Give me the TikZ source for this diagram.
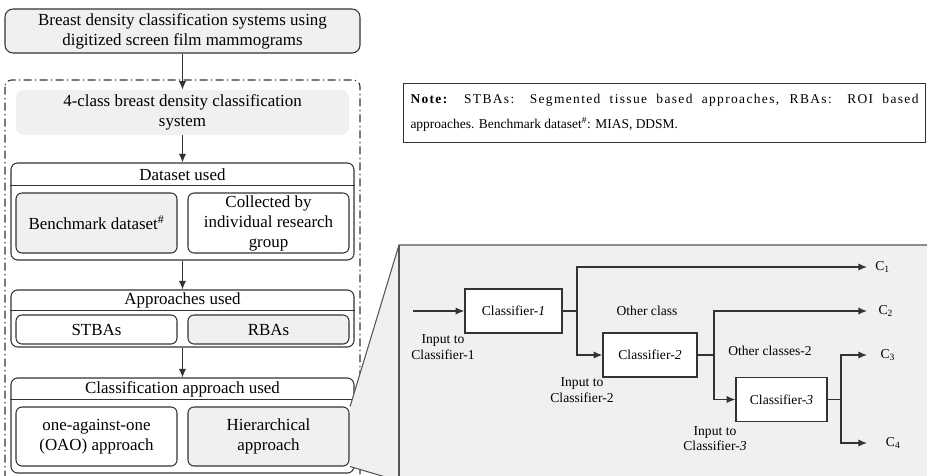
\documentclass[tikz,border=0pt]{standalone}
\usepackage{fontspec}
\setmainfont{Liberation Serif}
\usetikzlibrary{arrows.meta}
\definecolor{boxgray}{HTML}{F0F0F0}
\definecolor{linec}{HTML}{333333}
\definecolor{panelc}{HTML}{555555}
\tikzset{
  box/.style={draw=linec, line width=0.8pt, rounded corners=4.5pt, align=center, inner sep=0pt, minimum width=120.75pt},
  gbox/.style={box, fill=boxgray},
  grp/.style={draw=linec, line width=0.8pt, rounded corners=5pt, minimum width=257.25pt, inner sep=0pt},
  hdr/.style={inner sep=0pt},
  cbox/.style={draw=linec, line width=1pt, fill=white, minimum height=33pt, inner sep=0pt, font=\fontsize{10.2}{11.8}\selectfont},
  lbl/.style={inner sep=0pt, align=center, font=\fontsize{10.2}{11.8}\selectfont},
  outl/.style={anchor=west, inner ysep=0pt, font=\fontsize{10.2}{11.8}\selectfont},
  wire/.style={draw=linec, line width=1pt},
  flow/.style={draw=linec, line width=1pt, -{Latex[length=6.5pt,width=5.5pt]}},
}
\begin{document}
\begin{tikzpicture}[x=7.5pt, y=-7.5pt, font=\fontsize{12.7}{15}\selectfont]
        \useasboundingbox (0,0) rectangle (92.7,47.5);
        \clip (0,0) rectangle (92.7,47.5);
        % left column
        \node [gbox, minimum width=266.25pt, minimum height=33pt, rounded corners=6pt] (top) at (18.25,3.1)
              {Breast density classification systems using\\digitized screen film mammograms};
        \draw [linec, line width=0.8pt, rounded corners=5pt, dash pattern=on 6pt off 2.5pt on 1pt off 2.5pt]
              (0.5,8.0) rectangle (36.0,49.0);                                       %frame
        \node [fill=boxgray, rounded corners=6pt, minimum width=249.75pt, minimum height=33.75pt,
               align=center, inner sep=0pt] (four) at (18.25,11.25)
              {4-class breast density classification\\system};
        \draw [flow] (top) -- (four);                                               %
        \node [grp, minimum height=72.75pt] (dset) at (18.25,21.15) {};             %dataset
        \node [hdr] (dhdr) at (18.25,17.45) {Dataset used};                        %
        \draw [linec, line width=0.8pt] ([yshift=-17.25pt]dset.north west) -- ([yshift=-17.25pt]dset.north east);
        \node [gbox, minimum height=45pt] (bench) at (9.65,22.3) {Benchmark dataset\textsuperscript{\#}};
        \node [box, minimum height=45pt] (coll) at (26.85,22.3) {Collected by\\individual research\\group};
        \draw [flow] (four) -- (dset);                                              %
        \node [grp, minimum height=42.75pt] (appr) at (18.25,31.85) {};             %approaches
        \node [hdr] (ahdr) at (18.25,30.05) {Approaches used};                     %
        \draw [linec, line width=0.8pt] ([yshift=-15.75pt]appr.north west) -- ([yshift=-15.75pt]appr.north east);
        \node [box, minimum height=21.75pt] (stba) at (9.65,32.95) {STBAs};        %
        \node [gbox, minimum height=21.75pt] (rba) at (26.85,32.95) {RBAs};        %
        \draw [flow] (dset) -- (appr);                                              %
        \node [grp, minimum height=71.25pt] (clsf) at (18.25,42.55) {};             %classification
        \node [hdr] (chdr) at (18.25,38.9) {Classification approach used};         %
        \draw [linec, line width=0.8pt] ([yshift=-16.5pt]clsf.north west) -- ([yshift=-16.5pt]clsf.north east);
        \draw [flow] (appr) -- (clsf);                                              %
        \node [box, minimum height=44.25pt] (oao) at (9.65,43.65) {one-against-one\\(OAO) approach};
        \node [gbox, minimum height=44.25pt] (hier) at (26.85,43.65) {Hierarchical\\approach};
        % zoom panel
        \coordinate (ptl) at (39.9,24.5);                                          %
        \coordinate (pbl) at (39.9,48.1);                                          %
        \fill [boxgray] ([xshift=0.4pt]hier.north east) -- (ptl) -- (95,24.5) -- (95,50) -- (39.9,50)
              -- (pbl) -- ([xshift=0.4pt]hier.south east) -- cycle;
        \draw [panelc, line width=0.8pt] ([xshift=0.4pt]hier.north east) -- (ptl) -- (95,24.5);
        \draw [panelc, line width=0.8pt] (ptl) -- (39.9,50);                        %
        \draw [panelc, line width=0.8pt] ([xshift=0.4pt]hier.south east) -- (pbl);  %
        % note
        \node [draw=linec, line width=0.7pt, text width=381pt, inner xsep=5.5pt, inner ysep=0pt,
               minimum height=44.25pt, align=justify, font=\fontsize{10.1}{19}\selectfont] (note) at (66.45,11.25)
              {{\addfontfeatures{LetterSpace=10}\textbf{Note:} STBAs: Segmented tissue based approaches, RBAs: ROI based}\linebreak
               approaches. Benchmark dataset\textsuperscript{\#}: MIAS, DDSM.};
        % classifiers
        \node [cbox, minimum width=72.75pt] (c1) at (51.35,31.1) {Classifier-\textit{1}};
        \node [cbox, minimum width=70.5pt]  (c2) at (65.0,35.5)  {Classifier-\textit{2}};
        \node [cbox, minimum width=68.25pt] (c3) at (78.15,39.95) {Classifier-\textit{3}};
        \node [outl, inner xsep=6pt]  (o1) at (86.7,26.7) {C\textsubscript{1}};      %
        \node [outl, inner xsep=8.5pt] (o2) at (86.7,31.1) {C\textsubscript{2}};     %
        \node [outl, inner xsep=10pt] (o3) at (86.7,35.5) {C\textsubscript{3}};      %
        \node [outl, inner xsep=14pt] (o4) at (86.7,44.3) {C\textsubscript{4}};      %
        \coordinate (in1) at (41.3,31.1);                                          %
        \coordinate (j1) at (57.7,31.1);                                           %
        \coordinate (j2) at (71.4,35.5);                                           %
        \coordinate (j3) at (84.1,39.95);                                          %
        \draw [flow] (in1) -- (c1.west);                                            %
        \draw [wire] (c1.east) -- (j1);                                             %
        \draw [flow] (j1) |- (o1.west);                                             %
        \draw [flow] (j1) |- (c2.west);                                             %
        \draw [wire] (c2.east) -- (j2);                                             %
        \draw [flow] (j2) |- (o2.west);                                             %
        \draw [flow] (j2) |- (c3.west);                                             %
        \draw [wire] (c3.east) -- (j3);                                             %
        \draw [flow] (j3) |- (o3.west);                                             %
        \draw [flow] (j3) |- (o4.west);                                             %
        \node [lbl] (in1l) at (44.3,34.7)  {Input to\\Classifier-1};                %
        \node [lbl] (in2l) at (58.2,39.0)  {Input to\\Classifier-2};                %
        \node [lbl] (in3l) at (71.5,43.85) {Input to\\Classifier-\textit{3}};       %
        \node [lbl] (oth1) at (64.7,31.1)  {Other class};                           %
        \node [lbl] (oth2) at (77.0,35.1)  {Other classes-2};                       %
\end{tikzpicture}
\end{document}
